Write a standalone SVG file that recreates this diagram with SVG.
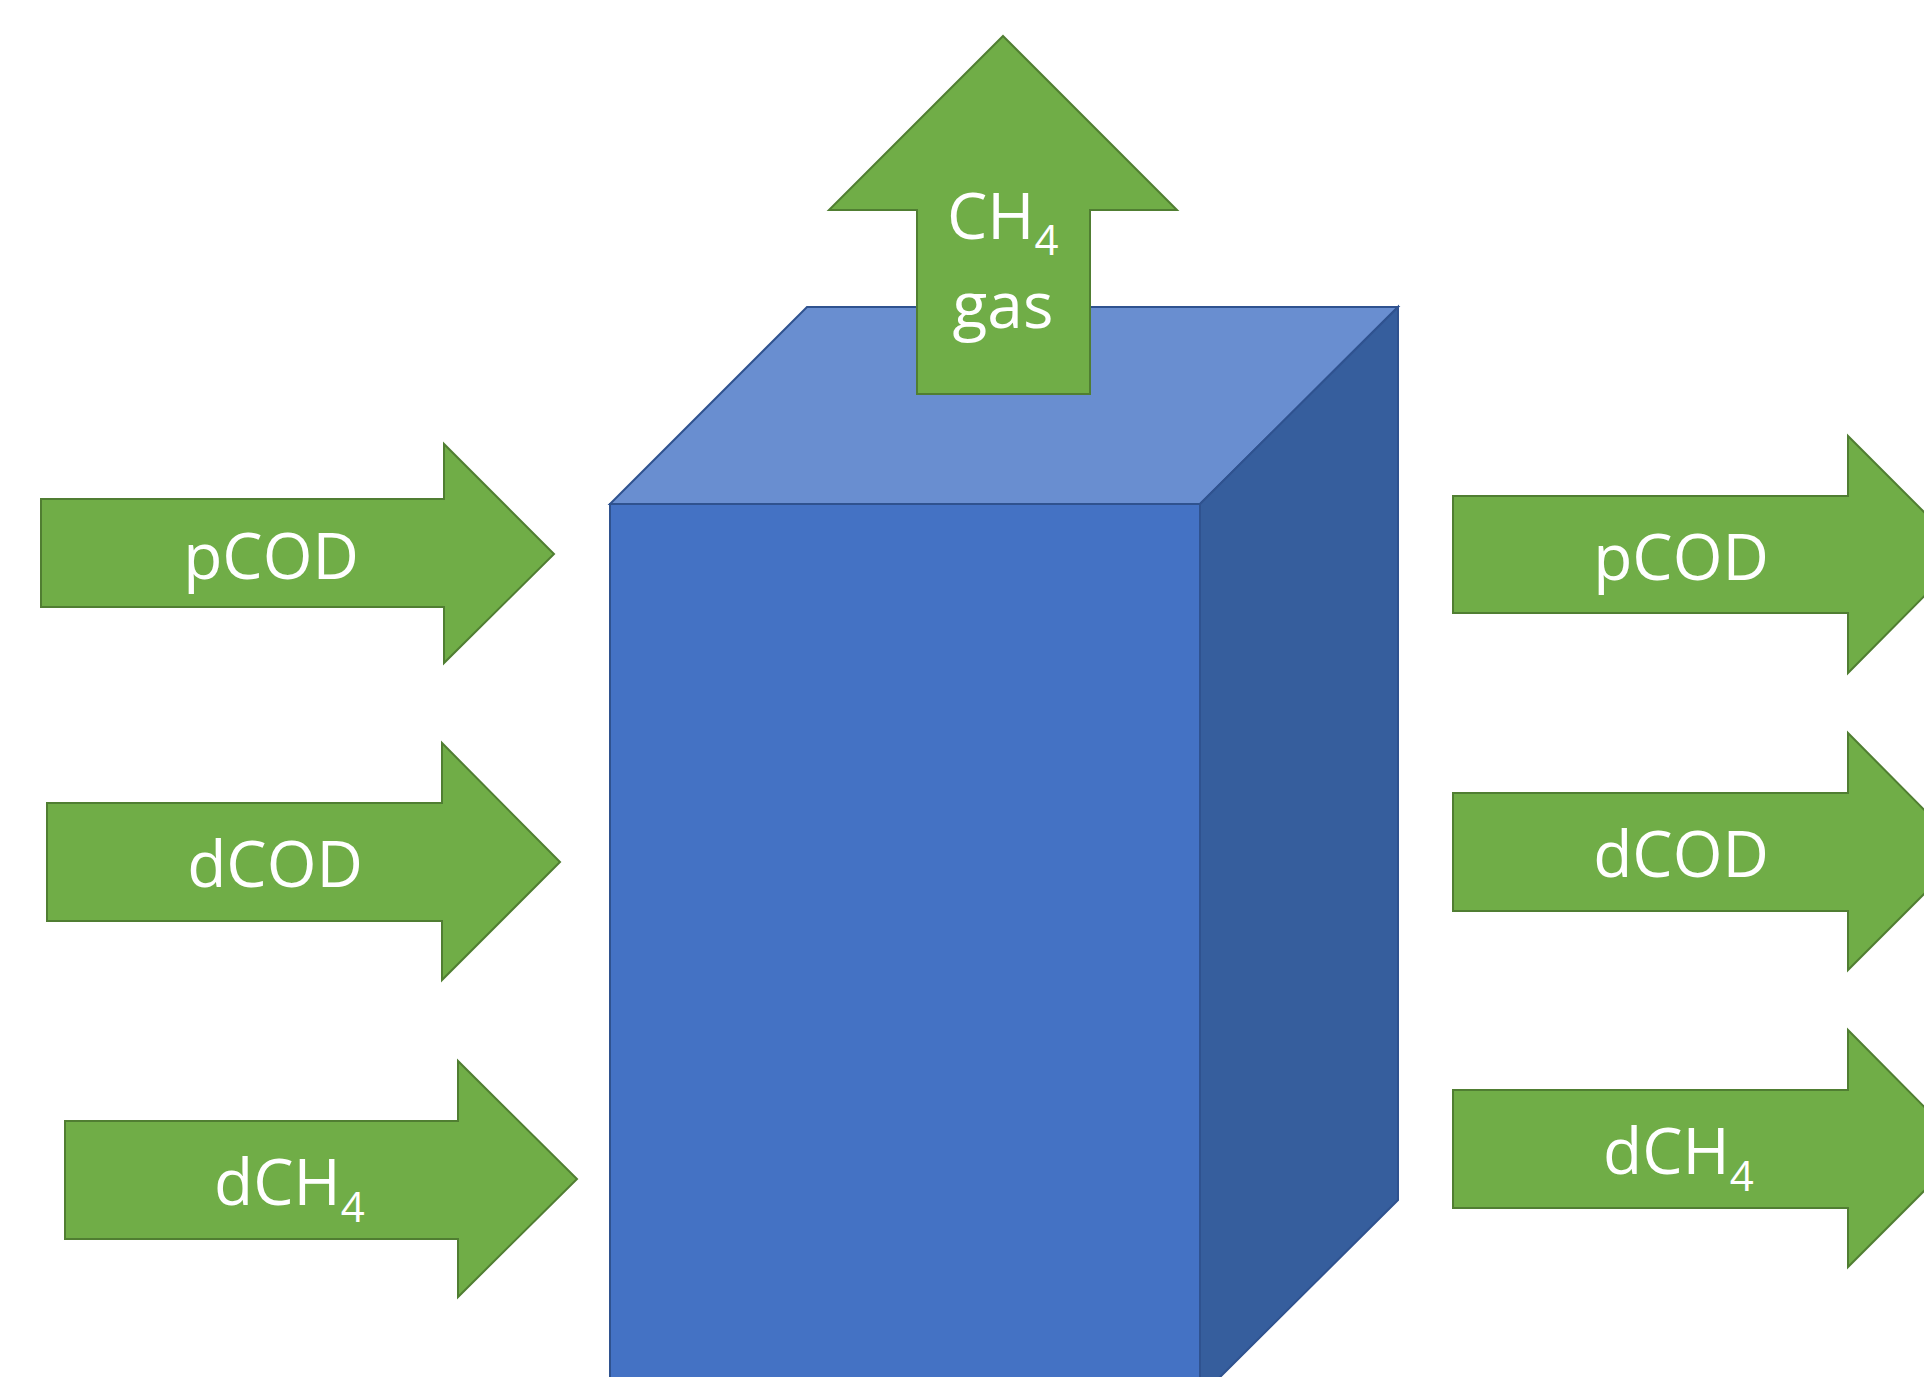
<svg xmlns="http://www.w3.org/2000/svg" width="1924" height="1377" viewBox="0 0 1924 1377">
  <style>
    .arrow { fill: #70AD47; stroke: #507E32; stroke-width: 2; stroke-linejoin: miter; }
    .front { fill: #4472C4; stroke: #2F528F; stroke-width: 2; }
    .top { fill: #698ED0; stroke: #2F528F; stroke-width: 2; }
    .side { fill: #365E9D; stroke: #2F528F; stroke-width: 2; }
    .lbl { fill: #FFFFFF; font-family: "Open Sans", "Noto Sans", "Liberation Sans", sans-serif; font-size: 64px; }
    .sub { font-size: 42px; }
  </style>
  <rect x="0" y="0" width="1924" height="1377" fill="#FFFFFF"/>

  <g id="reactor">
    <polygon class="front" points="610,504 1200,504 1200,1400 610,1400"/>
    <polygon class="top" points="610,504 807,307 1398,307 1200,504"/>
    <polygon class="side" points="1200,504 1398,307 1398,1200 1200,1397"/>
  </g>

  <g id="connectors"></g>

  <g id="ch4-gas">
    <polygon class="arrow" points="1003,36 1177,210 1090,210 1090,394 917,394 917,210 829,210"/>
    <text class="lbl" x="947" y="239">CH<tspan class="sub" dy="16">4</tspan></text>
    <text class="lbl" x="1003" y="328" text-anchor="middle">gas</text>
  </g>

  <g id="in-pcod">
    <polygon class="arrow" points="41,499 444,499 444,444 554,554 444,663 444,607 41,607"/>
    <text class="lbl" x="271" y="579" text-anchor="middle">pCOD</text>
  </g>

  <g id="in-dcod">
    <polygon class="arrow" points="47,803 442,803 442,743 560,862 442,980 442,921 47,921"/>
    <text class="lbl" x="275" y="887" text-anchor="middle">dCOD</text>
  </g>

  <g id="in-dch4">
    <polygon class="arrow" points="65,1121 458,1121 458,1061 577,1179 458,1297 458,1239 65,1239"/>
    <text class="lbl" x="214" y="1205">dCH<tspan class="sub" dy="17">4</tspan></text>
  </g>

  <g id="out-pcod">
    <polygon class="arrow" points="1453,496 1848,496 1848,436 1966,554 1848,673 1848,613 1453,613"/>
    <text class="lbl" x="1681" y="580" text-anchor="middle">pCOD</text>
  </g>

  <g id="out-dcod">
    <polygon class="arrow" points="1453,793 1848,793 1848,733 1966,852 1848,970 1848,911 1453,911"/>
    <text class="lbl" x="1681" y="877" text-anchor="middle">dCOD</text>
  </g>

  <g id="out-dch4">
    <polygon class="arrow" points="1453,1090 1848,1090 1848,1030 1966,1149 1848,1267 1848,1208 1453,1208"/>
    <text class="lbl" x="1603" y="1174">dCH<tspan class="sub" dy="17">4</tspan></text>
  </g>
</svg>
